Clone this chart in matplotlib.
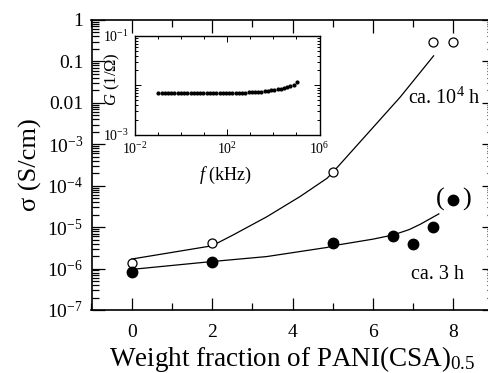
import matplotlib
matplotlib.use("Agg")
import matplotlib.pyplot as plt
import numpy as np
from matplotlib.ticker import LogLocator, NullFormatter, MultipleLocator

plt.rcParams['font.family'] = ['Liberation Serif', 'DejaVu Serif']
plt.rcParams['mathtext.fontset'] = 'custom'
plt.rcParams['mathtext.rm'] = 'Liberation Serif'
plt.rcParams['mathtext.it'] = 'Liberation Serif:italic'

# ---------------- data ----------------
# ca. 10^4 h (open circles)
x_long = [0, 2, 5, 7.5, 8]
s_long = [1.35e-6, 4.2e-6, 2.2e-4, 0.30, 0.30]
# fitted curve through the open circles (log10 sigma)
xc_long = [0, 1, 2, 2.52, 3.36, 4.19, 4.86, 5.0, 5.85, 6.68, 7.51]
lc_long = [-5.77, -5.61, -5.45, -5.19, -4.75, -4.26, -3.82, -3.68, -2.76, -1.86, -0.865]

# ca. 3 h (filled circles)
x_short = [0, 2, 5, 6.5, 7, 7.5]
s_short = [8.4e-7, 1.42e-6, 4.1e-6, 6.1e-6, 3.9e-6, 1.0e-5]
x_paren, s_paren = 8, 4.4e-5          # the bracketed point
xc_short = [0, 2, 3.36, 4.86, 5.0, 6.0, 6.5, 6.9, 7.18, 7.64]
lc_short = [-6.02, -5.83, -5.71, -5.49, -5.45, -5.29, -5.19, -5.06, -4.93, -4.68]

# inset: G vs f
logf = [-1.0, -0.86, -0.72, -0.58, -0.44, -0.30, -0.16, -0.02, 0.12, 0.26,
        0.40, 0.54, 0.68, 0.82, 0.96, 1.10, 1.24, 1.38, 1.52, 1.66,
        1.80, 1.94, 2.08, 2.22, 2.36, 2.50, 2.64, 2.78, 2.92, 3.06,
        3.20, 3.34, 3.48, 3.62, 3.76, 3.90, 4.04, 4.18, 4.32, 4.46,
        4.60, 4.74, 4.88, 5.02]
G_mS = [6.8, 6.8, 6.85, 6.85, 6.85, 6.85, 6.9, 6.9, 6.9, 6.9,
        6.9, 6.9, 6.9, 6.9, 6.9, 6.9, 6.9, 6.9, 6.9, 6.9,
        6.9, 6.9, 6.95, 6.95, 7.0, 7.0, 7.05, 7.1, 7.15, 7.2,
        7.3, 7.35, 7.45, 7.55, 7.7, 7.85, 8.0, 8.2, 8.5, 8.8,
        9.1, 9.5, 10.0, 11.5]

ytick_vals = [1e-7, 1e-6, 1e-5, 1e-4, 1e-3, 1e-2, 1e-1, 1]
ytick_labs = [r'$10^{-7}$', r'$10^{-6}$', r'$10^{-5}$', r'$10^{-4}$',
              r'$10^{-3}$', '0.01', '0.1', '1']

fig = plt.figure(figsize=(4.88, 3.73), dpi=100)
ax = fig.add_axes([91.5 / 488, 1 - 310 / 373, 402 / 488, 290 / 373])

ax.plot(xc_long, 10 ** np.array(lc_long), color='k', lw=0.9)
ax.plot(xc_short, 10 ** np.array(lc_short), color='k', lw=0.9)
ax.plot(x_long, s_long, 'o', ms=6.5, mfc='white', mec='k', mew=0.9)
ax.plot(x_short, s_short, 'o', ms=7.5, color='k')
ax.plot([x_paren], [s_paren], 'o', ms=7.5, color='k')
ax.annotate('(', (x_paren, s_paren), xytext=(-9.5, 1), textcoords='offset points',
            ha='center', va='center', fontsize=19)
ax.annotate(')', (x_paren, s_paren), xytext=(9.5, 1), textcoords='offset points',
            ha='center', va='center', fontsize=19)

ax.text(6.87, 10 ** -1.88, r'ca. $10^4$ h', ha='left', va='center', fontsize=14.5)
ax.text(6.96, 10 ** -6.15, 'ca. 3 h', ha='left', va='center', fontsize=14.5)

ax.set_yscale('log')
ax.set_xlim(-1, 9)
ax.set_ylim(1e-7, 1)
ax.set_yticks(ytick_vals)
ax.set_yticklabels(ytick_labs)
ax.yaxis.set_minor_locator(LogLocator(base=10, subs=np.arange(2, 10), numticks=20))
ax.yaxis.set_minor_formatter(NullFormatter())
ax.xaxis.set_major_locator(MultipleLocator(2))
ax.xaxis.set_minor_locator(MultipleLocator(1))
ax.tick_params(which='both', direction='in', top=True, right=True, width=0.9)
ax.tick_params(which='major', length=9, labelsize=14, pad=6)
ax.tick_params(which='minor', length=5)
ax.tick_params(axis='x', pad=10)
for sp in ax.spines.values():
    sp.set_linewidth(1.2)

ax.set_xlabel(r'Weight fraction of PANI(CSA)$_{0.5}$', fontsize=19.5, labelpad=2)
ax.set_ylabel('σ (S/cm)', fontsize=19, labelpad=4)

# inset
ins = fig.add_axes([135.3 / 488, 1 - 134.5 / 373, 184.2 / 488, 98.5 / 373])
ins.plot(10 ** np.array(logf), np.array(G_mS) * 1e-3, 'o', ms=2, color='k')
ins.set_xscale('log')
ins.set_yscale('log')
ins.set_xlim(1e-2, 1e6)
ins.set_ylim(1e-3, 1e-1)
ins.set_xticks([1e-2, 1e2, 1e6])
ins.set_xticklabels([r'$10^{-2}$', r'$10^{2}$', r'$10^{6}$'])
ins.set_yticks([1e-3, 1e-2, 1e-1])
ins.set_yticklabels([r'$10^{-3}$', '', r'$10^{-1}$'])
ins.xaxis.set_minor_locator(LogLocator(base=10, subs=[1.0], numticks=20))
ins.xaxis.set_minor_formatter(NullFormatter())
ins.yaxis.set_minor_locator(LogLocator(base=10, subs=np.arange(2, 10), numticks=20))
ins.yaxis.set_minor_formatter(NullFormatter())
ins.tick_params(which='both', direction='in', top=True, right=True, width=0.7)
ins.tick_params(which='major', length=4, labelsize=10, pad=5)
ins.tick_params(which='minor', length=2)
for sp in ins.spines.values():
    sp.set_linewidth(1.0)
ins.set_xlabel(r'$f$ (kHz)', fontsize=13)
ins.xaxis.set_label_coords(0.49, -0.31)
ins.set_ylabel(r'$G$ (1/Ω)', fontsize=12)
ins.yaxis.set_label_coords(-0.07, 0.56)

fig.savefig('out.png', dpi=100)
